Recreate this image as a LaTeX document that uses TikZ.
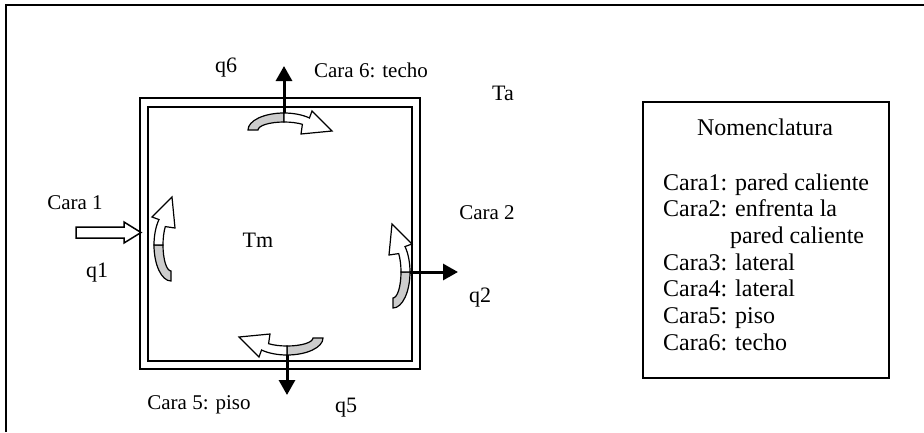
\documentclass[tikz,border=0pt]{standalone}
\usepackage{fontspec}
\setmainfont{Liberation Serif}
\usetikzlibrary{arrows.meta}
\begin{document}
\begin{tikzpicture}[x=1pt,y=1pt,
  lbl/.style={inner sep=0pt, font=\fontsize{21}{25}\selectfont},
  qlbl/.style={inner sep=0pt, font=\fontsize{22}{26}\selectfont},
  nom/.style={inner sep=0pt, anchor=base west, font=\fontsize{24}{28}\selectfont},
  wall/.style={line width=1.6pt},
  flux/.style={line width=3pt, -{Triangle[width=16pt,length=15pt]}},
  curvarrow/.pic={
    \filldraw[fill=gray!40, line width=1.2pt]
      (-36,0) arc[start angle=180,end angle=90,x radius=36pt,y radius=17pt]
      -- (0,8) arc[start angle=90,end angle=180,x radius=26pt,y radius=8pt] -- cycle;
    \filldraw[fill=white, line width=1.2pt, line join=miter]
      (0,17) arc[start angle=90,end angle=45,x radius=36pt,y radius=17pt]
      -- (28,19) -- (48,-1) -- (17,-4) -- (18.4,5.66)
      arc[start angle=45,end angle=90,x radius=26pt,y radius=8pt] -- cycle;
  }]
\useasboundingbox (0,0) rectangle (924,-432);
% outer frame
\draw[line width=2pt] (6,-432) -- (6,-5) -- (924,-5);
% room walls
\draw[wall] (140,-98) rectangle (420,-369);
\draw[wall] (148,-107) rectangle (412,-361);
% curved arrows
\pic at (284,-130) {curvarrow};
\pic[rotate=180] at (287,-338) {curvarrow};
\pic[rotate=90] at (171,-245) {curvarrow};
\pic[xscale=-1,rotate=90] at (393,-272) {curvarrow};
% flux arrows
\coordinate (t0) at (284,-113); \coordinate (t1) at (284,-66);
\coordinate (b0) at (287,-355); \coordinate (b1) at (287,-395);
\coordinate (r0) at (410,-272); \coordinate (r1) at (458,-272);
\draw[flux] (t0) -- (t1);
\draw[flux] (b0) -- (b1);
\draw[flux] (r0) -- (r1);
% block arrow q1
\draw[line width=1.5pt, fill=white, line join=miter]
  (76,-227) -- (124,-227) -- (124,-222) -- (141,-232.5) -- (124,-243) -- (124,-238) -- (76,-238) -- cycle;
% labels
\node[qlbl] (q6) at (226,-68) {q6};
\node[lbl] (c6) at (371,-70) {Cara 6: techo};
\node[qlbl] (ta) at (503,-93) {Ta};
\node[lbl] (c1) at (75,-203) {Cara 1};
\node[qlbl] (q1) at (97,-273) {q1};
\node[qlbl] (tm) at (258,-240) {Tm};
\node[lbl] (c2) at (487,-213) {Cara 2};
\node[qlbl] (q2) at (480,-298) {q2};
\node[lbl] (c5) at (199,-405) {Cara 5: piso};
\node[qlbl] (q5) at (346,-408) {q5};
% nomenclature
\draw[line width=1.6pt] (643,-102) rectangle (889,-378);
\node[inner sep=0pt, font=\fontsize{24}{28}\selectfont] (nt) at (765,-127) {Nomenclatura};
\node[nom] (n1) at (663,-190) {Cara1: pared caliente};
\node[nom] (n2) at (663,-216.7) {Cara2: enfrenta la};
\node[nom] (n2b) at (730,-243.4) {pared caliente};
\node[nom] (n3) at (663,-270) {Cara3: lateral};
\node[nom] (n4) at (663,-296.8) {Cara4: lateral};
\node[nom] (n5) at (663,-323.5) {Cara5: piso};
\node[nom] (n6) at (663,-350) {Cara6: techo};
\end{tikzpicture}
\end{document}
